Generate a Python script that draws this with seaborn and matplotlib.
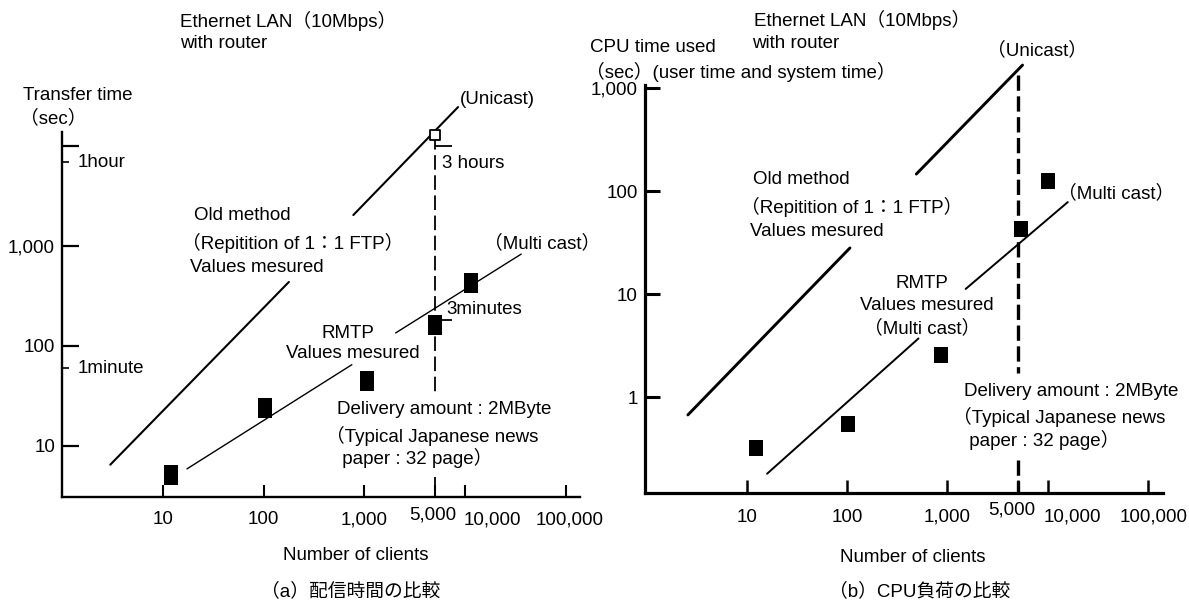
import matplotlib
matplotlib.use("Agg")
import matplotlib.pyplot as plt
import seaborn as sns
import pandas as pd
from matplotlib.path import Path
from matplotlib.ticker import FixedLocator, NullFormatter, NullLocator

W, H = 1189, 604

# ---------------- data: panel (a) transfer time ----------------
a_meas_clients = [11.9, 104, 1060, 5000, 11500]
a_meas_time = [5.1, 24, 45, 162, 430]
a_unicast_clients = [5000]
a_unicast_time = [13000]
a_old_x = [3.0, 178, 776, 8500]
a_old_y = [6.5, 437, 2040, 24500]
a_old_seg = [0, 0, 1, 1]
a_rmtp_x = [17.3, 750, 2040, 36000]
a_rmtp_y = [5.9, 65, 135, 830]
a_rmtp_seg = [0, 0, 1, 1]
a_limit_x = [5000, 5000, 5000, 5000]
a_limit_y = [13000, 34.7, 4.9, 3.09]
a_limit_seg = [0, 0, 1, 1]
a_yticks = [10, 100, 1000, 10000]
a_ytick_labels = ["10", "100", "1,000", ""]
a_time_marks = [60, 6900]
a_time_mark_labels = ["1minute", "1hour"]
a_3hours = 10000
a_3minutes = 180

# ---------------- data: panel (b) CPU time ----------------
b_meas_clients = [12.4, 103, 861, 5400, 10000]
b_meas_cpu = [0.32, 0.55, 2.55, 43, 125]
b_old_x = [2.6, 107, 490, 5600]
b_old_y = [0.67, 28, 146, 1670]
b_old_seg = [0, 0, 1, 1]
b_rmtp_x = [16, 515, 1520, 15800]
b_rmtp_y = [0.18, 3.7, 11.2, 78]
b_rmtp_seg = [0, 0, 1, 1]
b_limit_x = [5000, 5000, 5000, 5000]
b_limit_y = [1340, 1.71, 0.245, 0.117]
b_limit_seg = [0, 0, 1, 1]
b_yticks = [1, 10, 100, 1000]
b_ytick_labels = ["1", "10", "100", "1,000"]

x_ticks = [10, 100, 1000, 5000, 10000, 100000]
x_tick_labels = ["10", "100", "1,000", "5,000", "10,000", "100,000"]

# ---------------- style ----------------
sns.set_theme(style="white", rc={
    "axes.edgecolor": "black", "xtick.color": "black", "ytick.color": "black",
    "text.color": "black", "axes.labelcolor": "black",
    "lines.scale_dashes": False,
})
plt.rcParams["font.family"] = ["Liberation Sans", "Noto Sans CJK JP", "DejaVu Sans"]
FS = 13.5

fig = plt.figure(figsize=(W / 100, H / 100), dpi=100)
fig.patch.set_facecolor("white")


def make_axes(left, right, bottom, top):
    return fig.add_axes([left / W, 1 - bottom / H, (right - left) / W, (bottom - top) / H])


def T(x, y, s, ha="left", size=FS, **kw):
    fig.text(x / W, 1 - y / H, s, ha=ha, va="center", fontsize=size, **kw)


def rect_marker(aspect):
    w = aspect / 2
    verts = [(-w, -0.5), (w, -0.5), (w, 0.5), (-w, 0.5), (0, 0)]
    codes = [Path.MOVETO, Path.LINETO, Path.LINETO, Path.LINETO, Path.CLOSEPOLY]
    return Path(verts, codes)


tick_marker = Path([(0, 0), (1, 0)], [Path.MOVETO, Path.LINETO])


def seg_frame(xs, ys, seg):
    return pd.DataFrame({"x": xs, "y": ys, "seg": seg})


def style_axes(ax, spine_w, ylow, ytop):
    for s in ["top", "right"]:
        ax.spines[s].set_visible(False)
    for s in ["left", "bottom"]:
        ax.spines[s].set_linewidth(spine_w)
        ax.spines[s].set_color("black")
    ax.spines["left"].set_bounds(ylow, ytop)
    ax.set_facecolor("white")
    ax.grid(False)
    ax.set_xlabel("")
    ax.set_ylabel("")


def x_labels(ax, offsets):
    # offsets (points) per tick label: layout only
    for t, lab, (dx, dy) in zip(x_ticks, x_tick_labels, offsets):
        ax.annotate(lab, xy=(t, 0), xycoords=("data", "axes fraction"),
                    xytext=(dx, dy), textcoords="offset points",
                    ha="center", va="center", fontsize=FS)


# ================= panel (a) =================
ax = make_axes(62, 580, 497, 96)
ax.set_xscale("log")
ax.set_yscale("log")
ax.set_xlim(10 ** -0.002, 10 ** 5.14)
ax.set_ylim(10 ** 0.49, 10 ** 4.5)

sns.lineplot(data=seg_frame(a_old_x, a_old_y, a_old_seg), x="x", y="y", units="seg",
             estimator=None, sort=False, color="black", linewidth=1.5, ax=ax, legend=False)
sns.lineplot(data=seg_frame(a_rmtp_x, a_rmtp_y, a_rmtp_seg), x="x", y="y", units="seg",
             estimator=None, sort=False, color="black", linewidth=1.0, ax=ax, legend=False)
sns.lineplot(data=seg_frame(a_limit_x, a_limit_y, a_limit_seg), x="x", y="y", units="seg",
             estimator=None, sort=False, color="black", linewidth=1.3,
             linestyle=(0, (10.5, 4.0)), ax=ax, legend=False)
sns.scatterplot(x=a_meas_clients, y=a_meas_time, marker=rect_marker(0.68), s=190,
                color="black", linewidth=0, ax=ax, zorder=4, legend=False)
sns.scatterplot(x=a_unicast_clients, y=a_unicast_time, marker="s", s=55,
                color="white", edgecolor="black", linewidth=1.3, ax=ax, zorder=5, legend=False)
ax.plot([5000], [a_3hours], marker=tick_marker, markersize=24.5, mec="black",
        mfc="none", mew=1.3, ls="none", clip_on=False)
ax.plot([5000], [a_3minutes], marker=tick_marker, markersize=24.5, mec="black",
        mfc="none", mew=1.3, ls="none", zorder=3, clip_on=False)

style_axes(ax, 1.7, 10 ** 0.49, 10 ** 4.14)
ax.yaxis.set_major_locator(FixedLocator(a_yticks))
ax.set_yticklabels(a_ytick_labels)
ax.yaxis.set_minor_locator(FixedLocator(a_time_marks))
ax.yaxis.set_minor_formatter(NullFormatter())
ax.xaxis.set_major_locator(FixedLocator(x_ticks))
ax.set_xticklabels([""] * len(x_ticks))
ax.xaxis.set_minor_locator(NullLocator())
ax.tick_params(axis="y", which="major", direction="in", length=12, width=1.6,
               pad=5, labelsize=FS, left=True)
ax.tick_params(axis="y", which="minor", direction="in", length=5, width=1.2, left=True)
ax.tick_params(axis="x", which="major", direction="in", length=9, width=1.5,
               pad=9, labelsize=FS, bottom=True)
x_labels(ax, [(0, -16.5), (0, -16.5), (0, -16.5), (-1.5, -13), (19.5, -16.5), (3, -16.5)])

for v, lab in zip(a_time_marks, a_time_mark_labels):
    ax.annotate(lab, xy=(0, v), xycoords=("axes fraction", "data"), xytext=(11, 0),
                textcoords="offset points", ha="left", va="center", fontsize=FS)

T(180, 21, "Ethernet LAN（10Mbps）")
T(180, 43, "with router")
T(23, 96, "Transfer time")
T(20, 118, "（sec）")
T(460, 100, "(Unicast)")
T(442, 163, "3 hours")
T(446, 310, "3minutes")
T(194, 215, "Old method")
T(182, 243, "（Repitition of 1：1 FTP）")
T(190, 268, "Values mesured")
T(484, 243, "（Multi cast）")
T(348, 333, "RMTP", ha="center")
T(353, 354, "Values mesured", ha="center")
T(337, 410, "Delivery amount : 2MByte")
T(326, 436, "（Typical Japanese news")
T(337, 458, " paper : 32 page）")
T(356, 556, "Number of clients", ha="center")
T(351, 591, "（a）配信時間の比較", ha="center", size=13.5)

# ================= panel (b) =================
ax = make_axes(645.4, 1163, 493, 46.8)
ax.set_xscale("log")
ax.set_yscale("log")
ax.set_xlim(10 ** -0.008, 10 ** 5.147)
ax.set_ylim(10 ** -0.932, 10 ** 3.4)

sns.lineplot(data=seg_frame(b_old_x, b_old_y, b_old_seg), x="x", y="y", units="seg",
             estimator=None, sort=False, color="black", linewidth=2.1, ax=ax, legend=False)
sns.lineplot(data=seg_frame(b_rmtp_x, b_rmtp_y, b_rmtp_seg), x="x", y="y", units="seg",
             estimator=None, sort=False, color="black", linewidth=1.4, ax=ax, legend=False)
sns.lineplot(data=seg_frame(b_limit_x, b_limit_y, b_limit_seg), x="x", y="y", units="seg",
             estimator=None, sort=False, color="black", linewidth=2.4,
             linestyle=(0, (11, 4.0)), ax=ax, legend=False)
sns.scatterplot(x=b_meas_clients, y=b_meas_cpu, marker=rect_marker(0.9), s=140,
                color="black", linewidth=0, ax=ax, zorder=4, legend=False)

style_axes(ax, 2.3, 10 ** -0.932, 10 ** 3.03)
ax.yaxis.set_major_locator(FixedLocator(b_yticks))
ax.set_yticklabels(b_ytick_labels)
ax.yaxis.set_minor_locator(NullLocator())
ax.xaxis.set_major_locator(FixedLocator(x_ticks))
ax.set_xticklabels([""] * len(x_ticks))
ax.xaxis.set_minor_locator(NullLocator())
ax.tick_params(axis="y", which="major", direction="in", length=11, width=2.2,
               pad=5.5, labelsize=FS, left=True)
ax.tick_params(axis="x", which="major", direction="in", length=9.5, width=1.8,
               pad=9.5, labelsize=FS, bottom=True)
x_labels(ax, [(0, -17.3), (0, -17.3), (0, -17.3), (-4, -12.2), (18, -17.3), (4, -17.3)])

T(754, 20, "Ethernet LAN（10Mbps）")
T(752, 43, "with router")
T(590, 47, "CPU time used")
T(586, 72, "（sec）(user time and system time）")
T(987, 50, "（Unicast）")
T(753, 180, "Old method")
T(741, 207, "（Repitition of 1：1 FTP）")
T(750, 232, "Values mesured")
T(1058, 193, "（Multi cast）")
T(922, 283, "RMTP", ha="center")
T(927, 305, "Values mesured", ha="center")
T(922, 328, "（Multi cast）", ha="center")
T(964, 392, "Delivery amount : 2MByte")
T(953, 417, "（Typical Japanese news")
T(964, 440, " paper : 32 page）")
T(913, 557, "Number of clients", ha="center")
T(920, 591, "（b）CPU負荷の比較", ha="center", size=13.5)

fig.savefig("out.png", dpi=100, facecolor="white")
